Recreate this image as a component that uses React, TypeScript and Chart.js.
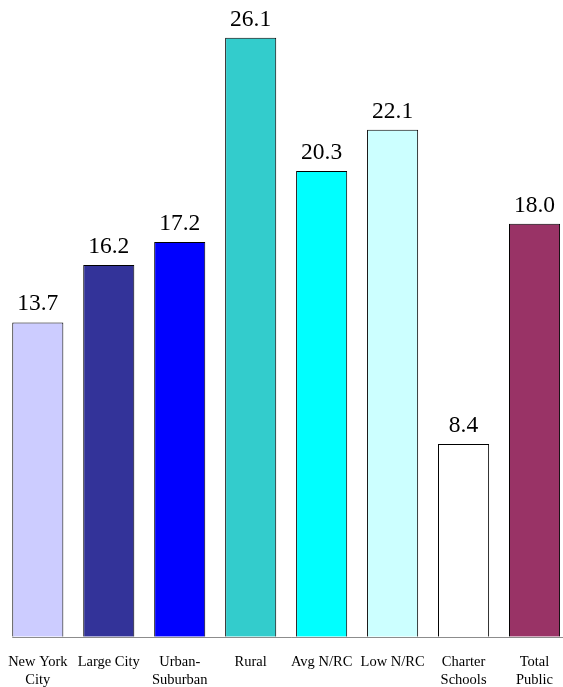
import React, { useEffect, useRef } from "react";
import { Chart, registerables } from "chart.js";

Chart.register(...registerables);

const categories: string[][] = [
  ["New York", "City"],
  ["Large City"],
  ["Urban-", "Suburban"],
  ["Rural"],
  ["Avg N/RC"],
  ["Low N/RC"],
  ["Charter", "Schools"],
  ["Total", "Public"],
];
const values: number[] = [13.7, 16.2, 17.2, 26.1, 20.3, 22.1, 8.4, 18.0];
const barColors: string[] = [
  "#CCCCFF",
  "#333399",
  "#0000FF",
  "#33CCCC",
  "#00FFFF",
  "#CCFFFF",
  "#FFFFFF",
  "#993366",
];

const SERIF = '"Liberation Serif", "Times New Roman", serif';

const valueLabels = {
  id: "valueLabels",
  beforeDatasetsDraw(chart: any) {
    const ctx = chart.ctx;
    const meta = chart.getDatasetMeta(0);
    const first = meta.data[0];
    const x0 = first.x - first.width / 2;
    const y = Math.round(chart.chartArea.bottom) + 0.5;
    ctx.save();
    ctx.strokeStyle = "#8c8c8c";
    ctx.lineWidth = 1;
    ctx.beginPath();
    ctx.moveTo(x0, y);
    ctx.lineTo(chart.width, y);
    ctx.stroke();
    ctx.restore();
  },
  afterDatasetsDraw(chart: any) {
    const ctx = chart.ctx;
    const meta = chart.getDatasetMeta(0);
    ctx.save();
    ctx.font = `23.5px ${SERIF}`;
    ctx.fillStyle = "#000";
    ctx.textAlign = "center";
    ctx.textBaseline = "alphabetic";
    meta.data.forEach((bar: any, i: number) => {
      ctx.fillText(values[i].toFixed(1), bar.x, bar.y - 12);
    });
    ctx.restore();
  },
};

export default function App() {
  const ref = useRef<HTMLCanvasElement>(null);
  useEffect(() => {
    if (!ref.current) return;
    const chart = new Chart(ref.current, {
      type: "bar",
      data: {
        labels: categories,
        datasets: [
          {
            data: values,
            backgroundColor: barColors,
            borderColor: "#000",
            borderWidth: 1,
            barPercentage: 0.72,
            categoryPercentage: 1,
          },
        ],
      },
      options: {
        responsive: false,
        animation: false,
        layout: { padding: { left: 2, right: 0, top: 0, bottom: 0 } },
        plugins: {
          legend: { display: false },
          tooltip: { enabled: false },
          title: { display: false },
        },
        scales: {
          y: {
            display: false,
            min: 0,
            max: 27.75,
          },
          x: {
            grid: { display: false },
            border: { display: false },
            ticks: {
              color: "#000",
              font: { family: SERIF, size: 14.5, lineHeight: 1.25 },
              padding: 8,
              maxRotation: 0,
              autoSkip: false,
            },
          },
        },
      },
      plugins: [valueLabels],
    });
    return () => chart.destroy();
  }, []);
  return (
    <div
      style={{
        position: "absolute",
        left: 0,
        top: 0,
        width: 563,
        height: 687,
        overflow: "hidden",
        background: "#fff",
      }}
    >
      <canvas
        ref={ref}
        width={570}
        height={697}
        style={{ width: 570, height: 697, display: "block" }}
      />
    </div>
  );
}
